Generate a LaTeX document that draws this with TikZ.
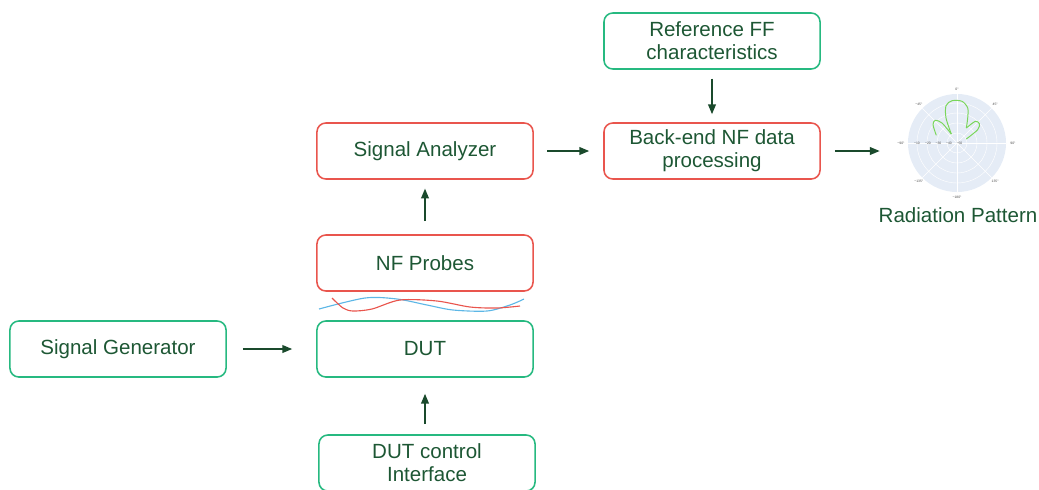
\documentclass[tikz,border=0pt]{standalone}
\usepackage{fontspec}
\setmainfont{Liberation Sans}
\usetikzlibrary{arrows.meta}

\definecolor{boxgreen}{HTML}{26B980}
\definecolor{boxred}{HTML}{E9554D}
\definecolor{txtgreen}{HTML}{1D5734}
\definecolor{arrowgreen}{HTML}{1A4A2C}
\definecolor{polarbg}{HTML}{E5ECF6}
\definecolor{lobegreen}{HTML}{7AD65A}
\definecolor{probeblue}{HTML}{5DB7E6}

\tikzset{
  block/.style={draw, rounded corners=0.22cm, line width=1.1pt, minimum width=5.4cm, minimum height=1.4cm, align=center, text=txtgreen, font=\fontsize{14.6}{16.4}\selectfont, inner sep=2pt},
  greenblock/.style={block, draw=boxgreen},
  redblock/.style={block, draw=boxred},
  flow/.style={-{Triangle[length=7pt,width=5.5pt]}, line width=1.1pt, draw=arrowgreen},
  ticklbl/.style={font=\fontsize{2.4}{2.4}\selectfont, text=black!70, inner sep=0pt},
}

\begin{document}
\begin{tikzpicture}[x=0.025cm, y=-0.025cm]

        % Frame of the picture
        \clip (0,0) rectangle (1039,489);

        % Blocks of the measurement chain
        \node[greenblock] (siggen) at (118,349) {Signal Generator};
        \node[greenblock] (dut) at (425,349) {DUT};
        \node[redblock] (probes) at (425,263) {NF Probes};
        \node[redblock] (analyzer) at (425,151) {Signal Analyzer};
        \node[redblock] (backend) at (712,151) {Back-end NF data\\processing};
        \node[greenblock] (reference) at (712,41) {Reference FF\\characteristics};
        \node[greenblock] (dutctrl) at (427,463) {DUT control\\Interface};

        % Near-field traces between DUT and probes
        \draw[probeblue, line width=0.8pt] plot[smooth] coordinates {(319,309) (365,298) (397,299) (427,305) (453,310) (487,311) (510,305) (524,299)};
        \draw[boxred, line width=0.8pt] plot[smooth] coordinates {(332,298) (343,308) (353,311) (372,309) (400,300) (437,301) (470,307) (497,308) (520,306)};

        % Radiation pattern (polar plot)
        \node[circle, fill=polarbg, minimum size=2.45cm, inner sep=0pt] (radpat) at (957,143) {};
        \node[text=txtgreen, font=\fontsize{14.6}{16.4}\selectfont] (radlabel) at (958,215) {Radiation Pattern};
        \begin{scope}[shift={(957,143)}, x=0.025cm, y=0.025cm]
            % grid
            \foreach \r in {10,20,30,40}
                \draw[white, line width=0.3pt] (0,0) circle (\r);
            \foreach \a in {0,45,...,315}
                \draw[white, line width=0.3pt] (0,0) -- (\a:49);
            % angle labels
            \node[ticklbl] at (90:54) {0°};
            \node[ticklbl] at (45:54) {45°};
            \node[ticklbl] at (0:56) {90°};
            \node[ticklbl] at (-45:54) {135°};
            \node[ticklbl] at (-90:54) {−180°};
            \node[ticklbl] at (-135:54) {−135°};
            \node[ticklbl] at (180:56) {−90°};
            \node[ticklbl] at (135:54) {−45°};
            % radial labels
            \node[ticklbl] at (-40,0) {−10};
            \node[ticklbl] at (-29,0) {−20};
            \node[ticklbl] at (-18.5,0) {−30};
            \node[ticklbl] at (-8,0) {−40};
            \node[ticklbl] at (2.5,0) {−50};
            % lobes
            \draw[lobegreen, line width=0.7pt] plot[smooth] coordinates {(-20.7,7.7) (-24,18.3) (-21.7,22.7) (-15,20) (-5.7,9)};
            \draw[lobegreen, line width=0.7pt] plot[smooth] coordinates {(-5.7,9) (-11,25) (-11,37.3) (-5,42.3) (5,41.7) (10.7,35) (10.7,25) (9.3,15)};
            \draw[lobegreen, line width=0.7pt] plot[smooth] coordinates {(9.3,15) (18.3,21.7) (22.3,19.3) (20.7,13.3) (9.3,4)};
        \end{scope}

        % Signal flow
        \draw[flow, shorten <=0.4cm, shorten >=0.6cm] (siggen.east) -- (dut.west);
        \draw[flow, shorten <=0.25cm, shorten >=0.4cm] (dut.south |- dutctrl.north) -- (dut.south);
        \draw[flow, shorten <=0.33cm, shorten >=0.22cm] (probes.north) -- (analyzer.south);
        \draw[flow, shorten <=0.33cm, shorten >=0.35cm] (analyzer.east) -- (backend.west);
        \draw[flow, shorten <=0.22cm, shorten >=0.2cm] (reference.south) -- (backend.north);
        \draw[flow, shorten <=0.35cm, shorten >=0.7cm] (backend.east) -- (backend.east -| radpat.west);

\end{tikzpicture}
\end{document}
